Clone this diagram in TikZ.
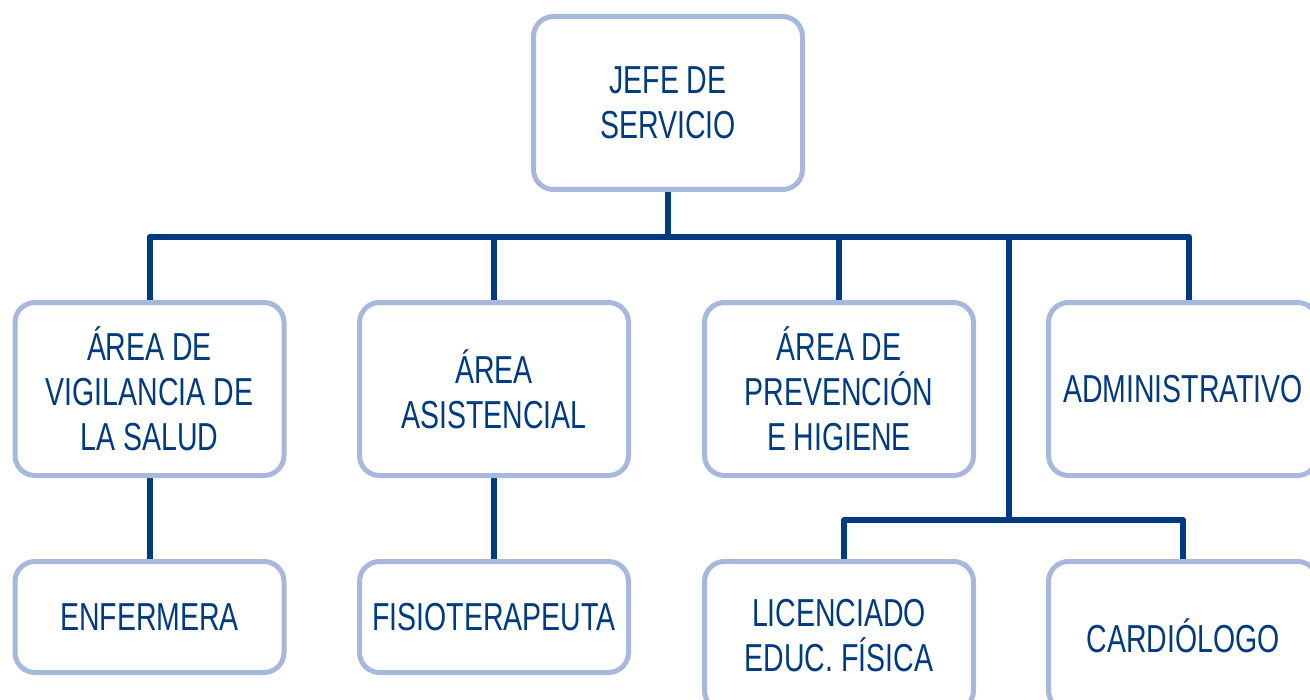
\documentclass[tikz,border=0pt]{standalone}
\usepackage{fontspec}
\setmainfont{Liberation Sans}[FakeStretch=0.73]
\usepackage{xcolor}
\usetikzlibrary{backgrounds}
\definecolor{navy}{HTML}{003A80}
\definecolor{lightblue}{HTML}{A8B8DC}

\begin{document}
\begin{tikzpicture}[x=0.5pt,y=-0.5pt,
	box/.style={draw=lightblue,line width=2.5pt,rounded corners=10pt,fill=white,text=navy,align=center,
		minimum width=134.5pt,minimum height=86.5pt,inner sep=0pt,font=\fontsize{19.5}{22.5}\selectfont},
	small/.style={box,minimum height=55.5pt},
	tall/.style={box,minimum height=74.5pt},
	link/.style={draw=navy,line width=3pt,line join=round}]
	\useasboundingbox (0,0) rectangle (1310,700);
	\clip (0,0) rectangle (1310,700);

	\node[box] (J) at (668,103) {JEFE DE\\SERVICIO};

	\node[box] (V) at (149.5,389) {ÁREA DE\\VIGILANCIA DE\\LA SALUD};
	\node[box] (A) at (494,389) {ÁREA\\ASISTENCIAL};
	\node[box] (P) at (839,389) {ÁREA DE\\PREVENCIÓN\\E HIGIENE};
	\node[box] (D) at (1183,389) {ADMINISTRATIVO};

	\node[small] (E) at (149.5,617) {ENFERMERA};
	\node[small] (F) at (494,617) {FISIOTERAPEUTA};
	\node[tall] (L) at (839,636) {LICENCIADO\\EDUC. FÍSICA};
	\node[tall] (C) at (1183,636) {CARDIÓLOGO};

	\coordinate (bus) at (668,237);
	\coordinate (split) at (1009,520);

	\begin{pgfonlayer}{background}
	\draw[link] (J.south) -- (bus);
	\draw[link] (V.north) |- (bus) -| ([xshift=3pt]D.north);
	\draw[link] (A.north) -- (A.north |- bus);
	\draw[link] (P.north) -- (P.north |- bus);
	\draw[link] (split |- bus) -- (split);
	\draw[link] ([xshift=2.5pt]L.north) |- (split) -| (C.north);
	\draw[link] (V.south) -- (E.north);
	\draw[link] (A.south) -- (F.north);
	\end{pgfonlayer}
\end{tikzpicture}
\end{document}
